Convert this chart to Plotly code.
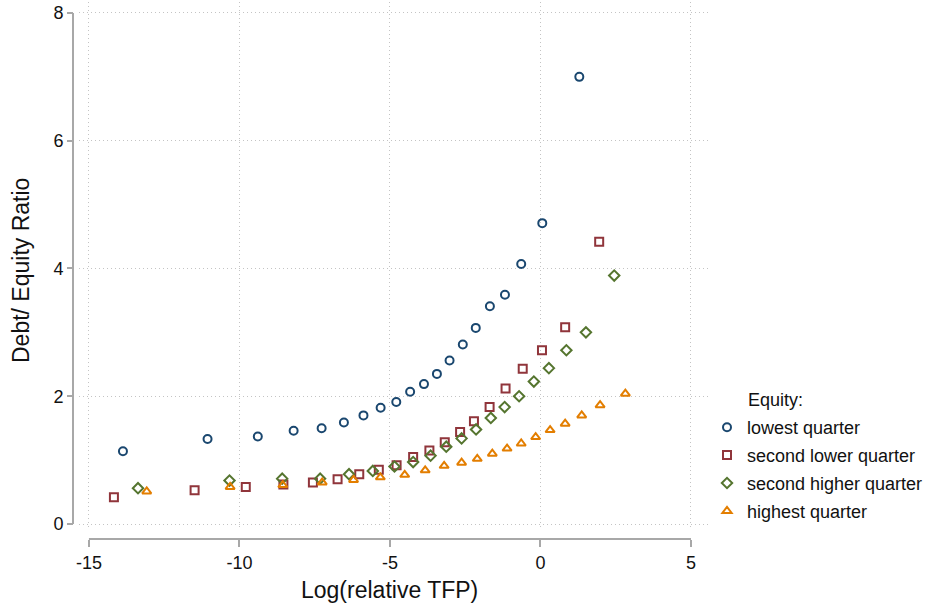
import plotly.graph_objects as go

# Data
lowest_x = [-13.87, -11.06, -9.39, -8.20, -7.27, -6.53, -5.88, -5.31, -4.79, -4.33,
            -3.87, -3.44, -3.02, -2.58, -2.15, -1.68, -1.18, -0.64, 0.06, 1.29]
lowest_y = [1.14, 1.33, 1.37, 1.46, 1.50, 1.59, 1.70, 1.82, 1.91, 2.07,
            2.19, 2.35, 2.56, 2.81, 3.07, 3.41, 3.59, 4.07, 4.71, 7.00]

second_lower_x = [-14.17, -11.49, -9.79, -8.54, -7.56, -6.74, -6.02, -5.37, -4.78, -4.23,
                  -3.69, -3.18, -2.67, -2.21, -1.69, -1.16, -0.59, 0.05, 0.82, 1.95]
second_lower_y = [0.42, 0.53, 0.58, 0.62, 0.65, 0.70, 0.78, 0.85, 0.92, 1.05,
                  1.15, 1.28, 1.44, 1.61, 1.83, 2.12, 2.43, 2.72, 3.08, 4.42]

second_higher_x = [-13.37, -10.33, -8.58, -7.32, -6.36, -5.57, -4.85, -4.23, -3.65, -3.13,
                   -2.62, -2.14, -1.65, -1.19, -0.71, -0.22, 0.28, 0.86, 1.51, 2.45]
second_higher_y = [0.56, 0.68, 0.71, 0.71, 0.78, 0.83, 0.90, 0.97, 1.07, 1.21,
                   1.34, 1.48, 1.66, 1.83, 2.00, 2.23, 2.44, 2.72, 3.00, 3.89]

highest_x = [-13.08, -10.31, -8.56, -7.25, -6.21, -5.32, -4.51, -3.83, -3.20, -2.62,
             -2.10, -1.60, -1.11, -0.64, -0.16, 0.32, 0.82, 1.37, 1.98, 2.82]
highest_y = [0.51, 0.58, 0.61, 0.65, 0.69, 0.73, 0.77, 0.84, 0.91, 0.96,
             1.02, 1.10, 1.18, 1.26, 1.36, 1.47, 1.57, 1.70, 1.86, 2.04]

series_names = ["lowest quarter", "second lower quarter", "second higher quarter", "highest quarter"]
x_ticks = [-15, -10, -5, 0, 5]
x_tick_labels = ["-15", "-10", "-5", "0", "5"]
y_ticks = [0, 2, 4, 6, 8]
y_tick_labels = ["0", "2", "4", "6", "8"]

colors = ["#1a476f", "#90353b", "#55752f", "#e37e00"]
symbols = ["circle-open", "square-open", "diamond-open", "triangle-up-open"]
sizes = [8, 8, 8, 8]

FONT = "Liberation Sans, Arial, sans-serif"
AXIS_GRAY = "#a8a8a8"
GRID = "#c4c4c4"
TXT = "#111111"

fig = go.Figure()
for xs, ys, name, c, s, sz in zip(
    [lowest_x, second_lower_x, second_higher_x, highest_x],
    [lowest_y, second_lower_y, second_higher_y, highest_y],
    series_names, colors, symbols, sizes,
):
    fig.add_trace(go.Scatter(
        x=xs, y=ys, mode="markers", name=name, legendgroup=name,
        marker=dict(symbol=s, size=sz, color=c, line=dict(color=c, width=2)),
    ))

W, H = 928, 608
ml, mr, mt, mb = 73, 220, 2, 69
pw = W - ml - mr
ph = H - mt - mb

fig.update_layout(
    width=W, height=H,
    margin=dict(l=ml, r=mr, t=mt, b=mb, autoexpand=False),
    paper_bgcolor="white", plot_bgcolor="white",
    font=dict(family=FONT, size=18, color=TXT),
    xaxis=dict(
        domain=[6 / pw, 1], range=[-15.33, 5.565],
        anchor="free", position=0, automargin=False,
        tickvals=x_ticks, ticktext=x_tick_labels,
        ticks="outside", ticklen=7, tickcolor=AXIS_GRAY, tickwidth=1.5,
        showline=False, zeroline=False,
        showgrid=True, gridcolor=GRID, griddash="1px,3px", gridwidth=1,
        tickfont=dict(size=18, color=TXT),
    ),
    yaxis=dict(
        domain=[9 / ph, 1], range=[-0.094, 8.172],
        anchor="free", position=0, automargin=False,
        tickvals=y_ticks, ticktext=y_tick_labels,
        ticks="outside", ticklen=6, tickcolor=AXIS_GRAY, tickwidth=1.5,
        showline=False, zeroline=False,
        showgrid=True, gridcolor=GRID, griddash="1px,3px", gridwidth=1,
        tickfont=dict(size=18, color=TXT),
    ),
    showlegend=True,
    legend=dict(
        xref="container", yref="container",
        x=707 / W, y=1 - 409 / H, xanchor="left", yanchor="top",
        font=dict(size=18, color=TXT),
        bgcolor="rgba(0,0,0,0)", borderwidth=0,
        tracegroupgap=1.5, traceorder="grouped",
    ),
    shapes=[
        dict(type="line", xref="x", yref="paper", x0=-15, x1=5, y0=0, y1=0,
             line=dict(color=AXIS_GRAY, width=2)),
        dict(type="line", xref="paper", yref="y", x0=0, x1=0, y0=0, y1=8,
             line=dict(color=AXIS_GRAY, width=2)),
    ],
    annotations=[
        dict(text="Log(relative TFP)", xref="x", yref="paper", x=-5, y=(539 - 590) / ph,
             showarrow=False, xanchor="center", yanchor="middle",
             font=dict(size=23, family=FONT, color=TXT)),
        dict(text="Debt/ Equity Ratio", xref="paper", yref="paper",
             x=(21 - ml) / pw, y=(539 - 271) / ph, textangle=-90,
             showarrow=False, xanchor="center", yanchor="middle",
             font=dict(size=23, family=FONT, color=TXT)),
        dict(text="Equity:", xref="paper", yref="paper",
             x=(746 - ml) / pw, y=(539 - 400) / ph,
             showarrow=False, xanchor="left", yanchor="middle",
             font=dict(size=18, family=FONT, color=TXT)),
    ],
)

fig.write_html(
    "out.html",
    config={"displayModeBar": False},
    post_script="document.body.style.margin='0';document.body.style.padding='0';",
)
